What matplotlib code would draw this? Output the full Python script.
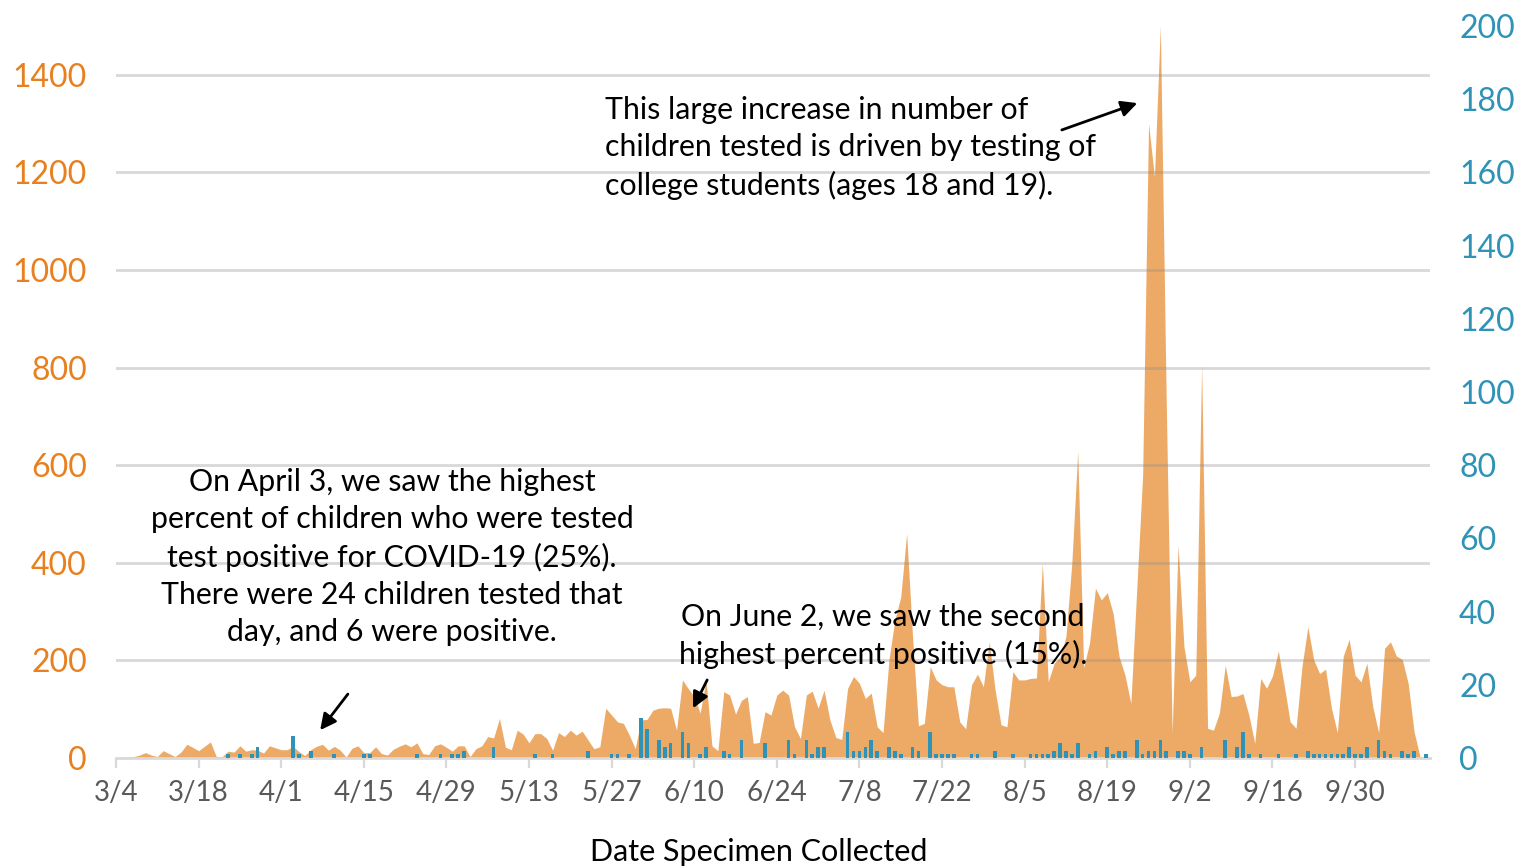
import numpy as np
import pandas as pd
import matplotlib
matplotlib.use("Agg")
import matplotlib.pyplot as plt

# Daily counts, starting 3/4
start_date = "2020-03-04"

tested = [
    0, 1, 2, 3, 6, 11, 6, 3, 15, 9,            # 3/4 - 3/13
    3, 12, 28, 22, 15, 24, 33, 3, 3, 14,       # 3/14 - 3/23
    12, 25, 14, 17, 16, 10, 25, 21, 17, 17,    # 3/24 - 4/2
    24, 13, 5, 17, 24, 28, 16, 24, 16, 2,      # 4/3 - 4/12
    20, 25, 11, 11, 23, 9, 6, 18, 24, 29,      # 4/13 - 4/22
    23, 31, 9, 7, 25, 29, 22, 14, 25, 25,      # 4/23 - 5/2
    3, 19, 25, 44, 41, 81, 22, 17, 57, 49,     # 5/3 - 5/12
    31, 50, 50, 40, 16, 52, 44, 57, 47, 55,    # 5/13 - 5/22
    37, 19, 23, 102, 88, 74, 71, 47, 19, 78,   # 5/23 - 6/1
    79, 98, 102, 103, 102, 57, 160, 142, 126, 92,   # 6/2 - 6/11
    160, 25, 15, 136, 129, 90, 118, 126, 30, 32,    # 6/12 - 6/21
    95, 88, 129, 139, 129, 64, 40, 129, 137, 102,   # 6/22 - 7/1
    139, 78, 42, 38, 143, 167, 153, 122, 133, 64,   # 7/2 - 7/11
    52, 201, 283, 330, 460, 249, 66, 71, 187, 160,  # 7/12 - 7/21
    150, 146, 146, 74, 60, 150, 172, 146, 238, 139, # 7/22 - 7/31
    68, 64, 177, 160, 160, 163, 164, 400, 156, 194, # 8/1 - 8/10
    207, 249, 400, 628, 185, 236, 348, 324, 339, 296,   # 8/11 - 8/20
    208, 170, 112, 346, 580, 1300, 1191, 1500, 730, 51, # 8/21 - 8/30
    436, 228, 156, 170, 805, 61, 57, 92, 190, 126,  # 8/31 - 9/9
    127, 132, 88, 30, 163, 143, 168, 219, 148, 74,  # 9/10 - 9/19
    61, 187, 269, 201, 173, 182, 102, 52, 209, 243, # 9/20 - 9/29
    170, 156, 194, 105, 52, 225, 238, 209, 202, 153,    # 9/30 - 10/9
    54, 3, 0,                                    # 10/10 - 10/12
]

# Positive results: day offset from 3/4 -> count
positive_days = [
    19, 21, 23, 24, 30, 31, 33, 37, 42, 43, 51, 55, 57, 58, 59, 64, 71, 74,
    80, 84, 85, 87, 89, 90, 92, 93, 94, 96, 97, 99, 100, 103, 104, 106, 110,
    114, 115, 117, 118, 119, 120, 124, 125, 126, 127, 128, 129, 131, 132, 133,
    135, 136, 138, 139, 140, 141, 142, 145, 146, 149, 152, 155, 156, 157, 158,
    159, 160, 161, 162, 163, 165, 166, 168, 169, 170, 171, 173, 174, 175, 176,
    177, 178, 180, 181, 182, 184, 188, 190, 191, 192, 194, 197, 200, 202, 203,
    204, 205, 206, 207, 208, 209, 210, 211, 212, 214, 215, 216, 218, 219, 220,
    222,
]
positive_counts = [
    1, 1, 1, 3, 6, 1, 2, 1, 1, 1, 1, 1, 1, 1, 2, 3, 1, 1,
    2, 1, 1, 1, 11, 8, 5, 3, 4, 7, 4, 1, 3, 2, 1, 5, 4,
    5, 1, 5, 1, 3, 3, 7, 2, 2, 3, 5, 2, 3, 2, 1,
    3, 2, 7, 1, 1, 1, 1, 1, 1, 2, 1, 1, 1, 1, 1,
    2, 4, 2, 1, 4, 1, 2, 3, 1, 2, 2, 5, 1, 2, 2,
    5, 2, 2, 2, 1, 3, 5, 3, 7, 1, 1, 1, 1, 2, 1,
    1, 1, 1, 1, 1, 3, 1, 1, 3, 5, 2, 1, 2, 1, 2,
    1,
]

tick_labels = ["3/4", "3/18", "4/1", "4/15", "4/29", "5/13", "5/27",
               "6/10", "6/24", "7/8", "7/22", "8/5", "8/19", "9/2",
               "9/16", "9/30"]

ORANGE = "#EDAA66"
ORANGE_TXT = "#E8801F"
TEAL = "#2E93B6"
GREY_TXT = "#595959"
GRID = "#D9D9D9"
FONT = "Lato"

dates = pd.date_range(start_date, periods=len(tested), freq="D")
t0 = pd.to_datetime(start_date)
pos_dates = t0 + pd.to_timedelta(positive_days, unit="D")

fig = plt.figure(figsize=(15.19, 8.66), dpi=100)
ax = fig.add_axes([116 / 1519, 1 - 758 / 866, (1430 - 116) / 1519, (758 - 26) / 866])
ax2 = ax.twinx()

# tested: area on the left axis
ax.fill_between(dates, tested, 0, color=ORANGE, lw=0, zorder=1)
ax.set_ylim(0, 1500)
ax.set_yticks(np.arange(0, 1401, 200))
for v in np.arange(200, 1401, 200):
    ax.axhline(v, color="#8a8a8a", alpha=0.33, lw=2, zorder=2)

# positives: thin bars on the right axis
ax2.bar(pos_dates, positive_counts, width=0.62, color=TEAL, zorder=3)
ax2.set_ylim(0, 200)
ax2.set_yticks(np.arange(0, 201, 20))

ax.set_xlim(t0, t0 + pd.Timedelta(days=222.7))
ticks = pd.date_range(start_date, "2020-09-30", freq="14D")
ax.set_xticks(ticks)
ax.set_xticklabels(tick_labels)

for a in (ax, ax2):
    for s in a.spines.values():
        s.set_visible(False)
ax.spines["bottom"].set_visible(True)
ax.spines["bottom"].set_color(GRID)
ax.spines["bottom"].set_linewidth(2)
ax.spines["bottom"].set_zorder(5)

ax.tick_params(axis="x", colors=GRID, length=7, width=1.6, pad=9,
               labelcolor=GREY_TXT, labelsize=20)
ax.tick_params(axis="y", length=0, pad=21, labelcolor=ORANGE_TXT, labelsize=23)
ax2.tick_params(axis="y", length=0, pad=21, labelcolor=TEAL, labelsize=23)
for lab in ax.get_xticklabels() + ax.get_yticklabels() + ax2.get_yticklabels():
    lab.set_fontfamily(FONT)

ax.set_xlabel("Date Specimen Collected", fontsize=22, family=FONT,
              color="black")
ax.xaxis.set_label_coords((759 - 116) / 1314, -(852 - 758) / 732)
ax.xaxis.label.set_va("center")

txt_kw = dict(fontsize=21.8, family=FONT, color="black", linespacing=1.4,
              transform=fig.transFigure)
fig.text(605 / 1519, 1 - 148 / 866,
         "This large increase in number of\n"
         "children tested is driven by testing of\n"
         "college students (ages 18 and 19).",
         ha="left", va="center", **txt_kw)
fig.text(392 / 1519, 1 - 557 / 866,
         "On April 3, we saw the highest\n"
         "percent of children who were tested\n"
         "test positive for COVID-19 (25%).\n"
         "There were 24 children tested that\n"
         "day, and 6 were positive.",
         ha="center", va="center", multialignment="center", **txt_kw)
fig.text(883 / 1519, 1 - 636 / 866,
         "On June 2, we saw the second\n"
         "highest percent positive (15%).",
         ha="center", va="center", multialignment="center", zorder=10, **txt_kw)

arrow = dict(arrowstyle="-|>", color="black", lw=2, mutation_scale=24,
             shrinkA=0, shrinkB=0)


def day(d):
    return t0 + pd.Timedelta(days=d)


ax.annotate("", xy=(day(173.1), 1342), xytext=(day(160.3), 1287),
            arrowprops=arrow, zorder=10)
ax.annotate("", xy=(day(34.6), 57), xytext=(day(39.3), 131),
            arrowprops=arrow, zorder=10)
ax.annotate("", xy=(day(97.8), 102), xytext=(day(100.2), 160),
            arrowprops=arrow, zorder=10)

ax.set_zorder(ax2.get_zorder() - 1)
ax.patch.set_visible(False)
ax2.set_zorder(1)
ax2.patch.set_visible(False)

fig.savefig("out.png", dpi=100)
